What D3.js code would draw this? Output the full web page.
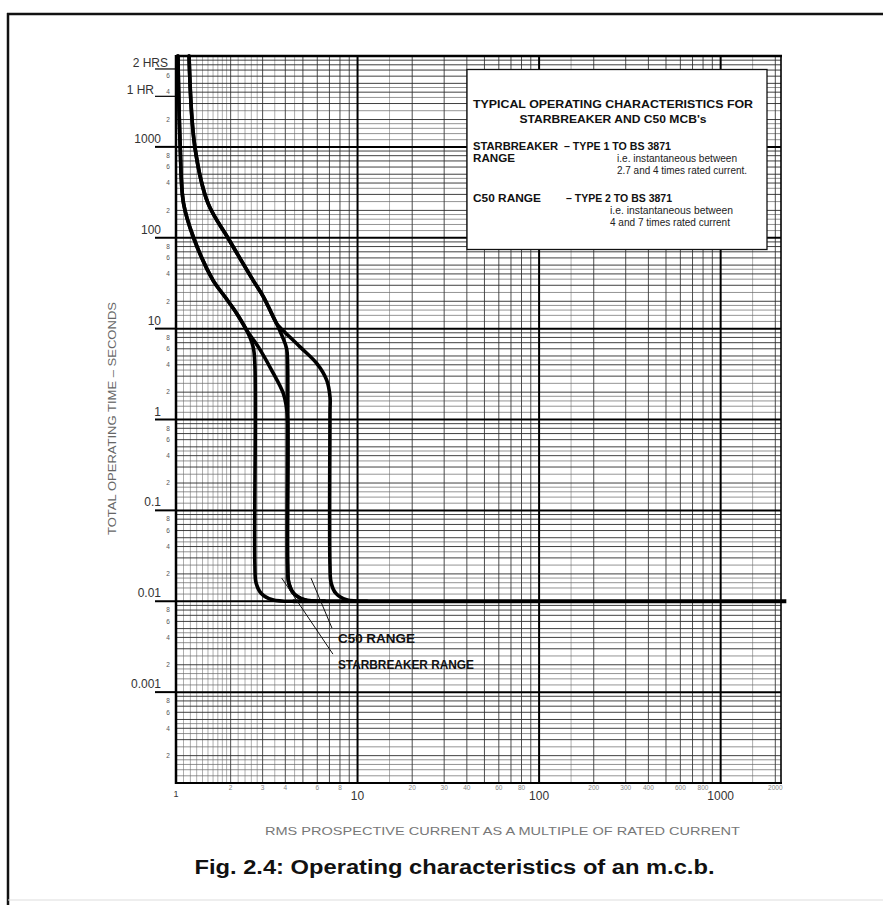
<!DOCTYPE html>
<html>
<head>
<meta charset="utf-8">
<script src="https://cdn.jsdelivr.net/npm/d3@7"></script>
<style>
  body { margin: 0; background: #fff; }
  svg { display: block; font-family: "Liberation Sans", Arial, sans-serif; }
</style>
</head>
<body>
<svg id="chart" width="883" height="905"></svg>
<script>
// axis values
const xDecades = [1, 10, 100, 1000];
const xMajorLabels = ["1", "10", "100", "1000"];
const xMinorLabels = [2, 3, 4, 6, 8, 20, 30, 40, 60, 80, 200, 300, 400, 600, 800, 2000];
const yDecades = [0.0001, 0.001, 0.01, 0.1, 1, 10, 100, 1000, 10000];
const yLabelValues = [0.001, 0.01, 0.1, 1, 10, 100, 1000];
const yLabelTexts = ["0.001", "0.01", "0.1", "1", "10", "100", "1000"];
const yHourValues = [7200, 3600];
const yHourTexts = ["2 HRS", "1 HR"];
const yMinorSteps = [2, 4, 6, 8];

// log paper subdivisions
const xFineFirst = [1.1, 1.2, 1.3, 1.4, 1.5, 1.6, 1.7, 1.8, 1.9, 2.2, 2.4, 2.6, 2.8, 3.5, 4.5];
const xFineOther = [1.5];
const midSteps = [2, 3, 4, 5, 6, 7, 8, 9];
const yFineSteps = [1.2, 1.4, 1.6, 1.8, 2.5, 3.5, 4.5];

// curves: [multiple of rated current, seconds]
const starMin = [[1.025, 10000], [1.055, 1000], [1.1, 240], [1.25, 100], [1.6, 34], [1.86, 22.4],
  [2.16, 14.7], [2.45, 9.6], [2.66, 6.3], [2.72, 4.0], [2.72, 0.025], [2.76, 0.016],
  [2.95, 0.0122], [3.4, 0.0104], [4.4, 0.01]];
const c50Min = [[1.025, 10000], [1.055, 1000], [1.1, 240], [1.25, 100], [1.6, 34], [1.86, 22.4],
  [2.16, 14.7], [2.45, 9.6], [2.84, 6.3], [3.36, 3.5], [3.9, 1.94], [4.05, 1.4], [4.12, 1.0],
  [4.12, 0.025], [4.18, 0.016], [4.45, 0.0122], [5.1, 0.0104], [6.6, 0.01]];
const starMax = [[1.18, 10000], [1.27, 1000], [1.5, 240], [1.93, 100], [2.66, 34], [3.03, 22.4],
  [3.36, 14.7], [3.58, 11.4], [3.85, 8.2], [4.07, 6.0], [4.12, 4.0], [4.12, 0.025], [4.18, 0.016],
  [4.45, 0.0122], [5.1, 0.0104], [6.6, 0.01]];
const c50Max = [[1.18, 10000], [1.27, 1000], [1.5, 240], [1.93, 100], [2.66, 34], [3.03, 22.4],
  [3.36, 14.7], [3.58, 11.4], [3.74, 10.3], [4.82, 6.3], [5.96, 4.14], [6.76, 2.71], [7.05, 1.78],
  [7.05, 1.2], [7.05, 0.025], [7.15, 0.016], [7.6, 0.0122], [8.7, 0.0104], [11.3, 0.01]];
const instantFloor = [[4.4, 0.01], [2300, 0.01]];

// range pointers
const leaders = [
  { from: [3.82, 0.018], to: [7.32, 0.00262] },
  { from: [5.54, 0.018], to: [7.23, 0.00507] }
];
const rangeLabels = [
  { text: "C50 RANGE", at: [7.8, 0.00347], len: 77 },
  { text: "STARBREAKER RANGE", at: [7.8, 0.0018], len: 136 }
];

const svg = d3.select("#chart");
const x = d3.scaleLog().domain([1, 2150]).range([176, 781]);
const y = d3.scaleLog().domain([1e-4, 1e4]).range([783, 56]);
const [x0, x1] = x.range();
const [yB, yT] = y.range();

// page frame
svg.append("line").attr("x1", 7).attr("x2", 883).attr("y1", 14).attr("y2", 14)
  .attr("stroke", "#111").attr("stroke-width", 2.5);
svg.append("line").attr("x1", 8).attr("x2", 8).attr("y1", 13).attr("y2", 905)
  .attr("stroke", "#111").attr("stroke-width", 2.5);
svg.append("line").attr("x1", 8).attr("x2", 883).attr("y1", 900).attr("y2", 900)
  .attr("stroke", "#ddd").attr("stroke-width", 1);

// grid values
const xFine = [], xMid = [];
xDecades.forEach((d, i) => {
  (i === 0 ? xFineFirst : xFineOther).forEach(s => { if (s * d < 2150) xFine.push(s * d); });
  midSteps.forEach(s => { if (s * d < 2150) xMid.push(s * d); });
});
const yFine = [], yMid = [];
yDecades.slice(0, -1).forEach(d => {
  yFineSteps.forEach(s => yFine.push(s * d));
  midSteps.forEach(s => yMid.push(s * d));
});

const grid = svg.append("g");
function vLines(vals, color, w) {
  grid.append("g").selectAll("line").data(vals).enter().append("line")
    .attr("x1", d => x(d)).attr("x2", d => x(d)).attr("y1", yT).attr("y2", yB)
    .attr("stroke", color).attr("stroke-width", w);
}
function hLines(vals, color, w) {
  grid.append("g").selectAll("line").data(vals).enter().append("line")
    .attr("x1", x0).attr("x2", x1).attr("y1", d => y(d)).attr("y2", d => y(d))
    .attr("stroke", color).attr("stroke-width", w);
}
vLines(xFine, "#777", 0.6);
hLines(yFine, "#666", 0.7);
vLines(xMid, "#3a3a3a", 0.9);
hLines(yMid, "#2a2a2a", 0.9);
vLines(xDecades.slice(1), "#000", 2);
hLines(yDecades.slice(1, -1), "#000", 2);

// major y lines reach out to the labels
svg.append("g").selectAll("line").data(yLabelValues).enter().append("line")
  .attr("x1", 155).attr("x2", x0).attr("y1", d => y(d)).attr("y2", d => y(d))
  .attr("stroke", "#000").attr("stroke-width", 2);
svg.append("g").selectAll("line").data(yHourValues).enter().append("line")
  .attr("x1", 155).attr("x2", x0).attr("y1", d => y(d)).attr("y2", d => y(d))
  .attr("stroke", "#000").attr("stroke-width", 1.2);

// plot border
svg.append("line").attr("x1", x0).attr("x2", x0).attr("y1", yT - 1).attr("y2", yB + 1)
  .attr("stroke", "#000").attr("stroke-width", 2.5);
svg.append("line").attr("x1", x0).attr("x2", x1 + 1).attr("y1", yT).attr("y2", yT)
  .attr("stroke", "#000").attr("stroke-width", 2.5);
svg.append("line").attr("x1", x0).attr("x2", x1 + 1).attr("y1", yB).attr("y2", yB)
  .attr("stroke", "#000").attr("stroke-width", 2);
svg.append("line").attr("x1", x1).attr("x2", x1).attr("y1", yT).attr("y2", yB)
  .attr("stroke", "#000").attr("stroke-width", 1.6);

// legend box
const box = svg.append("g").attr("transform", "translate(467,69.5)");
box.append("rect").attr("width", 300).attr("height", 180)
  .attr("fill", "#fff").attr("stroke", "#111").attr("stroke-width", 1.3);
const boxText = [
  { t: "TYPICAL OPERATING CHARACTERISTICS FOR", x: 146, y: 38.5, b: true, a: "middle", len: 280 },
  { t: "STARBREAKER AND C50 MCB's", x: 146, y: 53, b: true, a: "middle", len: 187 },
  { t: "STARBREAKER", x: 6, y: 80.5, b: true, len: 85 },
  { t: "– TYPE 1 TO BS 3871", x: 97, y: 80.5, b: true, len: 107 },
  { t: "RANGE", x: 6, y: 92, b: true, len: 42 },
  { t: "i.e. instantaneous between", x: 150, y: 92, len: 120 },
  { t: "2.7 and 4 times rated current.", x: 150, y: 104.5, len: 130 },
  { t: "C50 RANGE", x: 6, y: 132, b: true, len: 68 },
  { t: "– TYPE 2 TO BS 3871", x: 99, y: 132, b: true, len: 106 },
  { t: "i.e. instantaneous between", x: 143, y: 144.5, len: 123 },
  { t: "4 and 7 times rated current", x: 143, y: 156.5, len: 120 }
];
box.selectAll("text").data(boxText).enter().append("text")
  .attr("x", d => d.x).attr("y", d => d.y)
  .attr("text-anchor", d => d.a || "start")
  .attr("font-size", d => d.b ? 11.5 : 11)
  .attr("font-weight", d => d.b ? "bold" : "normal")
  .attr("fill", d => d.b ? "#111" : "#222")
  .attr("textLength", d => d.len).attr("lengthAdjust", "spacingAndGlyphs")
  .text(d => d.t);

// characteristic curves
const line = d3.line().x(d => x(d[0])).y(d => y(d[1])).curve(d3.curveCatmullRom.alpha(0.5));
const curves = svg.append("g").attr("fill", "none").attr("stroke", "#000")
  .attr("stroke-width", 3.6).attr("stroke-linejoin", "round").attr("stroke-linecap", "round");
[starMin, c50Min, starMax, c50Max].forEach(c => curves.append("path").attr("d", line(c)));
curves.append("path").attr("d", d3.line().x(d => x(d[0])).y(d => y(d[1]))(instantFloor))
  .attr("stroke-width", 4).attr("stroke-linecap", "butt");

// range pointers
svg.append("g").selectAll("line").data(leaders).enter().append("line")
  .attr("x1", d => x(d.from[0])).attr("y1", d => y(d.from[1]))
  .attr("x2", d => x(d.to[0])).attr("y2", d => y(d.to[1]))
  .attr("stroke", "#111").attr("stroke-width", 1);
svg.append("g").selectAll("text").data(rangeLabels).enter().append("text")
  .attr("x", d => x(d.at[0])).attr("y", d => y(d.at[1]))
  .attr("font-size", 13).attr("font-weight", "bold").attr("fill", "#111")
  .attr("textLength", d => d.len).attr("lengthAdjust", "spacingAndGlyphs")
  .text(d => d.text);

// y labels
const yl = svg.append("g").attr("fill", "#333").attr("font-size", 12);
yl.selectAll(".maj").data(yLabelValues).enter().append("text")
  .attr("x", 161).attr("y", d => y(d) - 4).attr("text-anchor", "end")
  .text((d, i) => yLabelTexts[i]);
yl.selectAll(".hr").data(yHourValues).enter().append("text")
  .attr("x", (d, i) => i === 0 ? 168 : 154).attr("y", d => y(d) - 2).attr("text-anchor", "end")
  .text((d, i) => yHourTexts[i]);
const yMinor = [];
yDecades.slice(0, -1).forEach(d => yMinorSteps.forEach(s => { if (s * d !== 8000) yMinor.push(s * d); }));
svg.append("g").selectAll("text").data(yMinor).enter().append("text")
  .attr("x", 168).attr("y", d => y(d) + 2.3).attr("text-anchor", "middle")
  .attr("font-size", 6.5).attr("fill", "#555").text(d => String(d).match(/[1-9]/)[0]);

// x labels
svg.append("g").selectAll("text").data(xDecades).enter().append("text")
  .attr("x", d => x(d)).attr("y", (d, i) => i === 0 ? 797 : 800).attr("text-anchor", "middle")
  .attr("font-size", (d, i) => i === 0 ? 9 : 12).attr("fill", "#333")
  .text((d, i) => xMajorLabels[i]);
svg.append("g").selectAll("text").data(xMinorLabels).enter().append("text")
  .attr("x", d => x(d)).attr("y", 790).attr("text-anchor", "middle")
  .attr("font-size", 6.5).attr("fill", "#888").text(d => d);

// axis titles
svg.append("text").attr("x", 502.5).attr("y", 835).attr("text-anchor", "middle")
  .attr("font-size", 11).attr("fill", "#777")
  .attr("textLength", 475).attr("lengthAdjust", "spacingAndGlyphs")
  .text("RMS PROSPECTIVE CURRENT AS A MULTIPLE OF RATED CURRENT");
svg.append("text").attr("transform", "translate(115.5,418.5) rotate(-90)")
  .attr("text-anchor", "middle").attr("font-size", 11.5).attr("fill", "#666")
  .attr("textLength", 233).attr("lengthAdjust", "spacingAndGlyphs")
  .text("TOTAL OPERATING TIME – SECONDS");

// caption
svg.append("text").attr("x", 454.5).attr("y", 874).attr("text-anchor", "middle")
  .attr("font-size", 20).attr("font-weight", "bold").attr("fill", "#111")
  .attr("textLength", 520).attr("lengthAdjust", "spacingAndGlyphs")
  .text("Fig. 2.4: Operating characteristics of an m.c.b.");
</script>
</body>
</html>
